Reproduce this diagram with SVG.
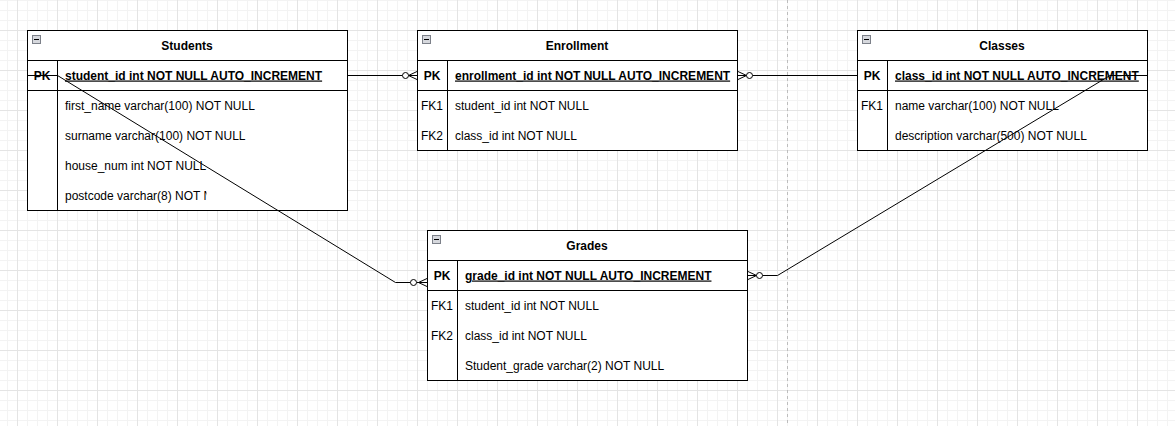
<svg xmlns="http://www.w3.org/2000/svg" width="1175" height="426" viewBox="0 0 1175 426">
<style>
.box{fill:#fff;stroke:#000;stroke-width:1}
.ln{stroke:#000;stroke-width:1;fill:none}
.t{font-family:"Liberation Sans",Arial,Helvetica,sans-serif;font-size:12px;fill:#000}
.b{font-weight:bold}
.u{text-decoration:underline}
.c{text-anchor:middle}
.conn{stroke:#000;stroke-width:1;fill:none}
.circ{fill:#fff;stroke:#000;stroke-width:1}
.ico{fill:#d6d8dd;stroke:#7c8089;stroke-width:1}
</style>
<defs>
<pattern id="grid" patternUnits="userSpaceOnUse" x="17" y="30" width="40" height="40">
<path d="M0 10.5H40M0 20.5H40M0 30.5H40M10.5 0V40M20.5 0V40M30.5 0V40" stroke="#f3f3f3" fill="none"/>
<path d="M0 0.5H40M0.5 0V40" stroke="#e4e4e4" fill="none"/>
</pattern>
<g id="minus">
<rect class="ico" x="0.5" y="0.5" width="8" height="8"/>
<path d="M2 4.5H7" stroke="#000" stroke-width="1"/>
</g>
<clipPath id="pcClip"><rect x="57" y="180" width="149.5" height="30"/></clipPath>
</defs>
<rect x="0" y="0" width="1175" height="426" fill="#fff"/>
<rect x="0" y="0" width="1175" height="426" fill="url(#grid)"/>
<path d="M787.5 0V426" stroke="#bdbdbd" stroke-dasharray="3 3" fill="none"/>

<g id="students">
<rect class="box" x="27.5" y="30.5" width="320" height="180"/>
<path class="ln" d="M27.5 60.5H347.5M27.5 90.5H347.5M57.5 60.5V210.5"/>
<use href="#minus" x="32" y="35"/>
<text class="t b c" x="187" y="49.5">Students</text>
<text class="t b c" x="42" y="79.5">PK</text>
<text class="t b u" x="65" y="79.5">student_id int NOT NULL AUTO_INCREMENT</text>
<text class="t" x="65" y="109.5">first_name varchar(100) NOT NULL</text>
<text class="t" x="65" y="139.5">surname varchar(100) NOT NULL</text>
<text class="t" x="65" y="169.5">house_num int NOT NULL</text>
<text class="t" x="65" y="199.5" clip-path="url(#pcClip)">postcode varchar(8) NOT NULL</text>
</g>

<g id="enrollment">
<rect class="box" x="417.5" y="30.5" width="320" height="120"/>
<path class="ln" d="M417.5 60.5H737.5M417.5 90.5H737.5M447.5 60.5V150.5"/>
<use href="#minus" x="422" y="35"/>
<text class="t b c" x="577" y="49.5">Enrollment</text>
<text class="t b c" x="432" y="79.5">PK</text>
<text class="t b u" x="455" y="79.5">enrollment_id int NOT NULL AUTO_INCREMENT</text>
<text class="t c" x="432" y="109.5">FK1</text>
<text class="t" x="455" y="109.5">student_id int NOT NULL</text>
<text class="t c" x="432" y="139.5">FK2</text>
<text class="t" x="455" y="139.5">class_id int NOT NULL</text>
</g>

<g id="classes">
<rect class="box" x="857.5" y="30.5" width="290" height="120"/>
<path class="ln" d="M857.5 60.5H1147.5M857.5 90.5H1147.5M887.5 60.5V150.5"/>
<use href="#minus" x="862" y="35"/>
<text class="t b c" x="1002" y="49.5">Classes</text>
<text class="t b c" x="872" y="79.5">PK</text>
<text class="t b u" x="895" y="79.5">class_id int NOT NULL AUTO_INCREMENT</text>
<text class="t c" x="872" y="109.5">FK1</text>
<text class="t" x="895" y="109.5">name varchar(100) NOT NULL</text>
<text class="t" x="895" y="139.5">description varchar(500) NOT NULL</text>
</g>

<g id="grades">
<rect class="box" x="427.5" y="230.5" width="320" height="150"/>
<path class="ln" d="M427.5 260.5H747.5M427.5 290.5H747.5M457.5 260.5V380.5"/>
<use href="#minus" x="432" y="235"/>
<text class="t b c" x="587" y="249.5">Grades</text>
<text class="t b c" x="442" y="279.5">PK</text>
<text class="t b u" x="465" y="279.5">grade_id int NOT NULL AUTO_INCREMENT</text>
<text class="t c" x="442" y="309.5">FK1</text>
<text class="t" x="465" y="309.5">student_id int NOT NULL</text>
<text class="t c" x="442" y="339.5">FK2</text>
<text class="t" x="465" y="339.5">class_id int NOT NULL</text>
<text class="t" x="465" y="369.5">Student_grade varchar(2) NOT NULL</text>
</g>

<g id="connectors">
<path class="conn" d="M347.5 75.5H402.5"/>
<path class="conn" d="M417 71.5L408.5 75.5L417 79.5M408.5 75.5H417"/>
<circle class="circ" cx="405.5" cy="75.5" r="3"/>

<path class="conn" d="M752.5 75.5H857.5"/>
<path class="conn" d="M738 71.5L746.5 75.5L738 79.5M738 75.5H746.5"/>
<circle class="circ" cx="749.5" cy="75.5" r="3"/>

<path class="conn" d="M27.5 75.5H57.5L395.5 282.5H410.5"/>
<path class="conn" d="M427 278.5L418.5 282.5L427 286.5M416.5 282.5H427"/>
<circle class="circ" cx="413.5" cy="282.5" r="3"/>

<path class="conn" d="M1147.5 75.5H1110L777.5 275.5H762.5"/>
<path class="conn" d="M748 271.5L756.5 275.5L748 279.5M748 275.5H756.5"/>
<circle class="circ" cx="759.5" cy="275.5" r="3"/>
</g>
</svg>
